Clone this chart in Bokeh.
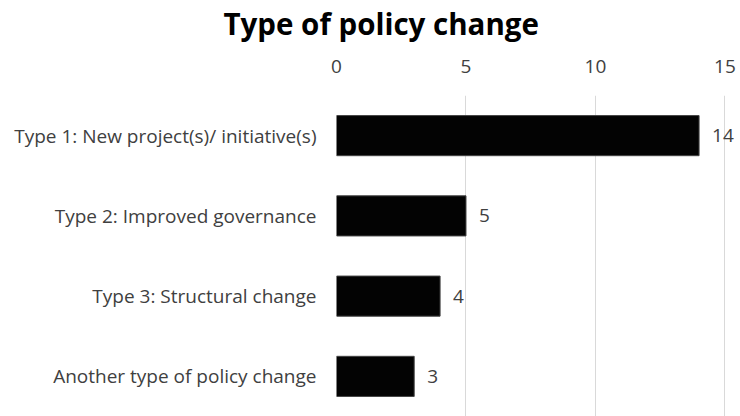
from bokeh.plotting import figure
from bokeh.models import FactorRange, Range1d, FixedTicker, ColumnDataSource, LabelSet
from bokeh.core.properties import value
from bokeh.embed import file_html
from bokeh.resources import INLINE

categories = [
    "Type 1: New project(s)/ initiative(s)",
    "Type 2: Improved governance",
    "Type 3: Structural change",
    "Another type of policy change",
]
counts = [14, 5, 4, 3]
x_ticks = [0, 5, 10, 15]
title_text = "Type of policy change"

FONT = "Open Sans"
LABEL_COLOR = "#404040"

src = ColumnDataSource(dict(cat=categories, val=counts, txt=[str(v) for v in counts]))

p = figure(
    width=740, height=416,
    y_range=FactorRange(factors=list(reversed(categories)), range_padding=0),
    x_range=Range1d(0, 15.6),
    x_axis_location="above",
    output_backend="svg", toolbar_location=None,
    min_border_left=336, min_border_right=0, min_border_bottom=0, min_border_top=0,
)

p.title.text = title_text
p.title.align = "left"
p.title.text_font = FONT
p.title.text_font_size = "29.5px"
p.title.text_font_style = "bold"
p.title.text_color = "#000000"
p.title.offset = -113
p.title.standoff = 0

p.hbar(y="cat", right="val", left=0, height=0.5, source=src,
       fill_color="#030303", line_color="#444444", line_width=1)

labels = LabelSet(x="val", y="cat", text="txt", source=src, x_offset=13,
                  text_baseline="middle", text_font=value(FONT),
                  text_font_size="19px", text_color=LABEL_COLOR)
p.add_layout(labels)

p.xaxis.ticker = FixedTicker(ticks=x_ticks)
p.xaxis.axis_line_color = None
p.xaxis.major_tick_line_color = None
p.xaxis.minor_tick_line_color = None
p.xaxis.major_tick_out = 0
p.xaxis.major_tick_in = 0
p.xaxis.major_label_standoff = 23
p.xaxis.major_label_text_font = FONT
p.xaxis.major_label_text_font_size = "19px"
p.xaxis.major_label_text_color = LABEL_COLOR
p.xaxis.axis_label = " "
p.xaxis.axis_label_text_font_size = "1px"
p.xaxis.axis_label_standoff = 9

p.yaxis.axis_line_color = None
p.yaxis.major_tick_line_color = None
p.yaxis.minor_tick_line_color = None
p.yaxis.major_tick_out = 0
p.yaxis.major_tick_in = 0
p.yaxis.major_label_standoff = 20
p.yaxis.major_label_text_font = FONT
p.yaxis.major_label_text_font_size = "19px"
p.yaxis.major_label_text_color = LABEL_COLOR

p.xgrid.ticker = FixedTicker(ticks=x_ticks)
p.xgrid.grid_line_color = "#d9d9d9"
p.xgrid.grid_line_width = 1
p.ygrid.grid_line_color = None

p.outline_line_color = None
p.background_fill_color = "white"
p.border_fill_color = "white"

open("out.html", "w").write(file_html(p, INLINE))
